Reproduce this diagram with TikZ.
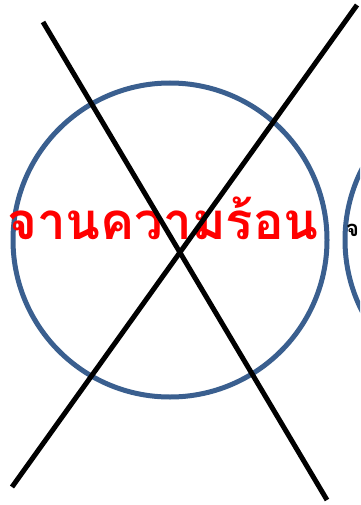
\documentclass[tikz,border=0pt]{standalone}
\usepackage{fontspec}
\newfontfamily\thaifont[Script=Thai]{Loma}
\definecolor{ringblue}{HTML}{3A5F8F}
\begin{document}
\begin{tikzpicture}[x=1pt,y=-1pt,
  ring/.style={draw=ringblue,line width=5pt},
  cross/.style={draw=black,line width=5pt},
  label/.style={inner sep=0pt,anchor=base west,font=\thaifont\bfseries\fontsize{51}{60}\selectfont}]
\useasboundingbox (0,0) rectangle (360,505);
\clip (0,0) rectangle (360,505);
\node[ring,circle,minimum size=314pt,inner sep=0pt] (c1) at (170,240) {};
\node[ring,circle,minimum size=314pt,inner sep=0pt] (c2) at (502,240) {};
\node[label,text=red] (t1) at (7,239) {จานความร้อน};
\node[label,text=black,font=\thaifont\bfseries\fontsize{22}{26}\selectfont] (t2) at (346,236) {จ};
\coordinate (a1) at (43,22);
\coordinate (a2) at (327,500);
\coordinate (b1) at (357,5);
\coordinate (b2) at (12,487);
\draw[cross] (a1) -- (a2);
\draw[cross] (b1) -- (b2);
\end{tikzpicture}
\end{document}
